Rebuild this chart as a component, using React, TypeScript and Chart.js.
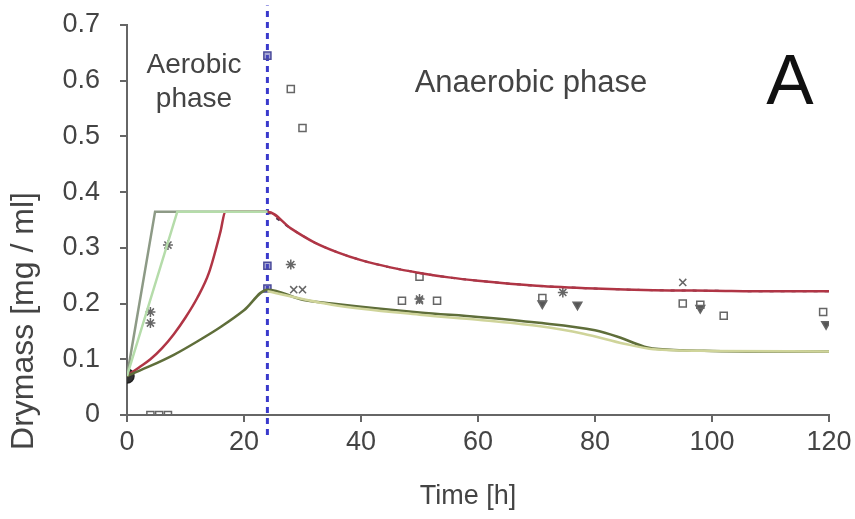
import React, { useEffect, useRef } from "react";
import { Chart, registerables } from "chart.js";

Chart.register(...registerables);

// ---- data ----
const yTickLabels = ["0", "0.1", "0.2", "0.3", "0.4", "0.5", "0.6", "0.7"];
const xTickLabels = ["0", "20", "40", "60", "80", "100", "120"];

// model curves (aerobic + anaerobic phase)
const fastGreyT = [0, 4.8, 24];
const fastGreyY = [0.07, 0.365, 0.365];
const fastGreenT = [0, 8.6, 24];
const fastGreenY = [0.07, 0.365, 0.365];
const redT = [0, 2, 4, 6, 8, 10, 12, 14, 16, 16.8, 24, 28, 32, 36, 40, 45, 50, 55, 60, 70, 80, 90, 100, 110, 120];
const redY = [0.07, 0.085, 0.1, 0.12, 0.145, 0.175, 0.21, 0.255, 0.33, 0.365, 0.365, 0.335, 0.31, 0.292, 0.278, 0.265, 0.255, 0.247, 0.241, 0.232, 0.227, 0.224, 0.223, 0.222, 0.222];
const oliveT = [0, 4, 8, 12, 16, 20, 24, 30, 35, 50, 60, 70, 80, 84, 89, 95, 100, 110, 120];
const oliveY = [0.07, 0.088, 0.108, 0.132, 0.158, 0.188, 0.225, 0.207, 0.2, 0.184, 0.176, 0.166, 0.152, 0.14, 0.121, 0.116, 0.115, 0.114, 0.114];
const paleT = [24, 35, 50, 60, 70, 78, 85, 90, 100, 120];
const paleY = [0.222, 0.198, 0.18, 0.171, 0.16, 0.146, 0.128, 0.118, 0.115, 0.114];
const phaseT = [24, 24];
const phaseY = [-0.036, 0.735];

// measured points
const squareT = [4, 5.5, 7, 28, 30, 47, 53, 50, 71, 95, 98, 102, 119];
const squareY = [0, 0, 0, 0.585, 0.515, 0.205, 0.205, 0.248, 0.21, 0.2, 0.198, 0.178, 0.185];
const crossT = [28.5, 30, 95, 50];
const crossY = [0.225, 0.225, 0.238, 0.205];
const starT = [4, 4, 7, 50, 28, 74.5];
const starY = [0.165, 0.185, 0.305, 0.208, 0.27, 0.22];
const triT = [71, 77, 98, 119.5];
const triY = [0.2, 0.198, 0.192, 0.163];
const blueT = [24, 24, 24];
const blueY = [0.645, 0.227, 0.268];
const startT = [0];
const startY = [0.07];

const zip = (t: number[], y: number[]) => t.map((x, i) => ({ x, y: y[i] }));

const FONT = "'Liberation Sans', Arial, sans-serif";

const textPlugin = {
  id: "texts",
  afterDraw(chart: any) {
    const ctx = chart.ctx;
    ctx.save();
    ctx.fillStyle = "#444";
    ctx.textAlign = "center";
    ctx.textBaseline = "alphabetic";
    ctx.font = `28px ${FONT}`;
    ctx.fillText("Aerobic", 194, 73);
    ctx.fillText("phase", 194, 107);
    ctx.font = `31px ${FONT}`;
    ctx.fillText("Anaerobic phase", 531, 92);
    ctx.fillStyle = "#111";
    ctx.font = `71px ${FONT}`;
    ctx.fillText("A", 790, 104);
    ctx.fillStyle = "#444";
    ctx.textBaseline = "middle";
    ctx.font = `27px ${FONT}`;
    ctx.fillText("Time [h]", 468, 497);
    ctx.font = `32px ${FONT}`;
    ctx.translate(24, 321);
    ctx.rotate(-Math.PI / 2);
    ctx.fillText("Drymass [mg / ml]", 0, 0);
    ctx.restore();
  },
};

export default function App() {
  const ref = useRef<HTMLCanvasElement | null>(null);
  useEffect(() => {
    if (!ref.current) return;
    const line = (t: number[], y: number[], color: string, width: number, extra: any = {}) => ({
      type: "line",
      data: zip(t, y),
      borderColor: color,
      borderWidth: width,
      pointRadius: 0,
      fill: false,
      cubicInterpolationMode: "monotone",
      ...extra,
    });
    const pts = (t: number[], y: number[], style: string, extra: any = {}) => ({
      type: "scatter",
      data: zip(t, y),
      pointStyle: style,
      pointRadius: 5,
      borderColor: "#666",
      backgroundColor: "rgba(255,255,255,0)",
      borderWidth: 1.5,
      ...extra,
    });
    const chart = new Chart(ref.current, {
      type: "scatter",
      data: {
        datasets: [
          line(paleT, paleY, "#cfd49a", 2.5),
          line(fastGreenT, fastGreenY, "#b5dcaa", 2.5, { cubicInterpolationMode: "default", tension: 0 }),
          line(fastGreyT, fastGreyY, "#8d9a86", 2.5, { cubicInterpolationMode: "default", tension: 0 }),
          line(oliveT, oliveY, "#5f6e3a", 2.5),
          line(redT, redY, "#b03545", 2.5),
          line(redT.slice(10), redY.slice(10), "#4a3550", 2, { borderDash: [4, 7] }),
          pts(squareT, squareY, "rect"),
          pts(crossT, crossY, "crossRot"),
          pts(starT, starY, "star"),
          pts(triT, triY, "triangle", { rotation: 180, backgroundColor: "#555" }),
          pts(blueT, blueY, "rect", { borderColor: "#4a4a9a", backgroundColor: "rgba(80,80,170,0.5)" }),
          pts(startT, startY, "circle", { pointRadius: 7, borderColor: "#222", backgroundColor: "#333" }),
          line(phaseT, phaseY, "#3a3acc", 3, { borderDash: [6, 5], cubicInterpolationMode: "default", tension: 0, clip: false }),
        ],
      } as any,
      options: {
        animation: false,
        responsive: false,
        maintainAspectRatio: false,
        layout: { padding: { top: 25, right: 26, left: 0, bottom: 0 } },
        plugins: { legend: { display: false }, tooltip: { enabled: false } },
        scales: {
          x: {
            type: "linear",
            min: 0,
            max: 120,
            afterFit: (s: any) => {
              s.height = 104;
              s.paddingLeft = 0;
              s.paddingRight = 0;
            },
            afterBuildTicks: (s: any) => { s.ticks = xTickLabels.map((v) => ({ value: Number(v) })); },
            ticks: {
              callback: (v: any) => String(v),
              color: "#444",
              font: { family: FONT, size: 27 },
              padding: 4,
              maxRotation: 0,
            },
            grid: { drawOnChartArea: false, drawTicks: true, tickLength: 7, color: "#666", lineWidth: 2 },
            border: { color: "#666", width: 2 },
          },
          y: {
            type: "linear",
            min: 0,
            max: 0.7,
            afterFit: (s: any) => {
              s.width = 127;
              s.paddingTop = 0;
              s.paddingBottom = 0;
            },
            afterBuildTicks: (s: any) => { s.ticks = yTickLabels.map((v) => ({ value: Number(v) })); },
            ticks: {
              callback: (v: any) => yTickLabels[Math.round(Number(v) * 10)],
              color: "#444",
              font: { family: FONT, size: 27 },
              padding: 20,
            },
            grid: { drawOnChartArea: false, drawTicks: true, tickLength: 7, color: "#666", lineWidth: 2 },
            border: { color: "#666", width: 2 },
          },
        },
      } as any,
      plugins: [textPlugin],
    });
    return () => chart.destroy();
  }, []);
  return (
    <div style={{ position: "absolute", left: 0, top: 0, width: 855, height: 519, background: "#fff" }}>
      <canvas ref={ref} width={855} height={519} />
    </div>
  );
}
